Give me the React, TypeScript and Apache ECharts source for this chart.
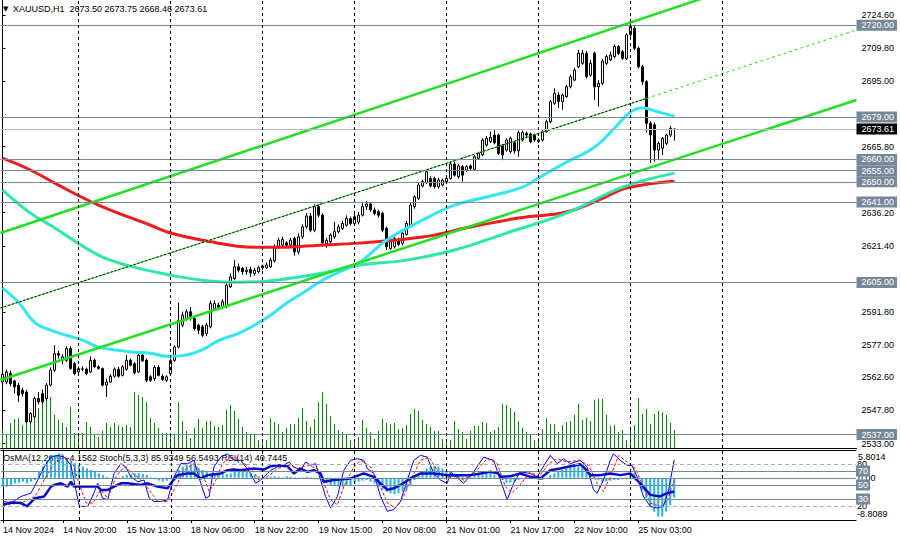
import React, { useEffect, useRef } from "react";
import * as echarts from "echarts";

const FONT = '"Liberation Sans", Arial, sans-serif';
const symbolTitle = "XAUUSD,H1";
const lastQuote = ["2673.50", "2673.75", "2668.46", "2673.61"];
const indicatorTitle = "OsMA(12,26,9) -4.1562 Stoch(5,3,3) 85.9349 56.5493 RSI(14) 40.7445";

const SLOTS = 214; // bars + empty space on the right
const priceMin = 2531.0;
const priceMax = 2731.3;
const priceTicks = [2533.0, 2547.8, 2562.6, 2577.0, 2591.8, 2621.4, 2636.2, 2665.8, 2695.0, 2709.8, 2724.6];
const levels = [2720, 2679, 2660, 2655, 2650, 2641, 2605, 2537];
const lastPrice = 2673.61;
const separators = [19, 42, 65, 88, 111, 134, 157, 180];
const timeLabels: [number, string][] = [
  [0, "14 Nov 2024"], [15, "14 Nov 20:00"], [31, "15 Nov 13:00"], [47, "18 Nov 06:00"],
  [63, "18 Nov 22:00"], [79, "19 Nov 15:00"], [95, "20 Nov 08:00"], [111, "21 Nov 01:00"],
  [127, "21 Nov 17:00"], [143, "22 Nov 10:00"], [159, "25 Nov 03:00"],
];

// [open, high, low, close]
const candles: number[][] = [
  [2560.5, 2565.5, 2559.5, 2564.0], [2560.5, 2566.0, 2559.5, 2565.0], [2564.3, 2565.5, 2558.5, 2559.8], [2561.0, 2561.5, 2555.3, 2558.3], [2559.1, 2560.0, 2551.6, 2554.6],
  [2556.8, 2558.0, 2554.0, 2555.3], [2556.0, 2557.0, 2542.0, 2542.7], [2542.7, 2547.0, 2542.0, 2546.4], [2545.0, 2554.0, 2544.5, 2553.1], [2553.1, 2556.0, 2550.5, 2551.6],
  [2555.3, 2557.0, 2550.8, 2551.6], [2553.1, 2560.0, 2552.0, 2559.1], [2559.1, 2567.0, 2558.5, 2565.8], [2565.8, 2577.0, 2565.0, 2573.2], [2573.2, 2574.5, 2571.0, 2572.5],
  [2570.2, 2573.0, 2568.5, 2571.8], [2570.2, 2576.5, 2569.5, 2575.5], [2575.5, 2576.5, 2566.0, 2566.5], [2568.7, 2569.5, 2563.5, 2564.3], [2565.0, 2567.5, 2564.0, 2566.5],
  [2566.2, 2567.5, 2565.3, 2566.4], [2566.2, 2567.0, 2563.5, 2564.3], [2565.0, 2572.0, 2564.5, 2570.2], [2570.2, 2571.0, 2566.8, 2567.3], [2567.3, 2568.0, 2566.0, 2566.5],
  [2566.5, 2567.0, 2558.5, 2559.1], [2559.1, 2562.0, 2553.8, 2560.5], [2560.5, 2564.0, 2560.0, 2563.1], [2563.1, 2567.0, 2562.5, 2566.2], [2566.2, 2567.3, 2562.5, 2563.1],
  [2563.5, 2568.0, 2563.0, 2567.3], [2566.2, 2572.5, 2565.5, 2570.2], [2570.2, 2571.0, 2567.5, 2568.0], [2568.7, 2569.5, 2564.0, 2564.6], [2565.0, 2574.0, 2564.5, 2572.5],
  [2572.5, 2573.5, 2569.5, 2569.9], [2570.2, 2571.0, 2560.5, 2561.3], [2562.8, 2563.5, 2560.5, 2561.3], [2562.0, 2568.0, 2561.0, 2567.0], [2567.0, 2568.0, 2563.0, 2563.5],
  [2563.1, 2564.0, 2561.0, 2561.6], [2561.3, 2563.5, 2560.5, 2562.8], [2564.3, 2571.0, 2563.5, 2570.2], [2570.2, 2577.0, 2569.5, 2576.2], [2576.2, 2596.0, 2575.5, 2588.0],
  [2585.9, 2592.0, 2585.0, 2590.4], [2588.9, 2593.0, 2588.0, 2591.9], [2591.9, 2594.0, 2588.0, 2588.9], [2588.9, 2590.0, 2583.5, 2584.4], [2585.9, 2586.5, 2582.0, 2583.7],
  [2585.2, 2586.0, 2580.7, 2581.4], [2582.2, 2587.0, 2581.0, 2585.9], [2585.2, 2597.0, 2584.5, 2595.6], [2593.4, 2597.0, 2592.5, 2595.6], [2594.9, 2596.0, 2592.5, 2593.4],
  [2594.1, 2597.5, 2593.0, 2596.4], [2594.1, 2605.0, 2593.5, 2603.8], [2603.1, 2609.0, 2602.5, 2607.5], [2606.8, 2615.0, 2606.0, 2612.0], [2612.0, 2613.5, 2609.5, 2610.5],
  [2611.3, 2612.0, 2608.5, 2609.8], [2609.8, 2612.0, 2608.5, 2610.5], [2610.8, 2612.0, 2607.5, 2609.3], [2609.0, 2611.5, 2608.0, 2610.5], [2609.8, 2612.5, 2609.0, 2611.6],
  [2611.6, 2613.0, 2610.5, 2612.4], [2611.6, 2614.0, 2611.0, 2612.8], [2612.0, 2616.0, 2611.5, 2615.0], [2614.7, 2622.0, 2614.0, 2620.9], [2620.9, 2625.0, 2620.0, 2623.9],
  [2621.7, 2625.5, 2621.0, 2624.2], [2622.7, 2623.5, 2621.0, 2621.7], [2621.7, 2625.0, 2621.0, 2623.9], [2624.7, 2625.5, 2617.0, 2618.7], [2618.7, 2627.0, 2617.5, 2625.4],
  [2625.4, 2631.0, 2624.5, 2629.9], [2629.9, 2636.0, 2629.0, 2634.7], [2634.7, 2636.0, 2627.5, 2628.4], [2628.4, 2640.0, 2627.5, 2638.9], [2638.9, 2640.0, 2634.0, 2635.1],
  [2635.1, 2636.0, 2621.0, 2622.7], [2622.4, 2625.0, 2620.5, 2623.9], [2623.2, 2627.0, 2622.0, 2626.2], [2625.4, 2632.1, 2624.5, 2627.7], [2627.7, 2631.0, 2627.0, 2629.9],
  [2629.2, 2632.5, 2628.5, 2631.4], [2630.6, 2635.0, 2630.0, 2633.6], [2633.6, 2634.5, 2630.5, 2631.4], [2631.4, 2636.0, 2630.5, 2634.4], [2632.0, 2636.5, 2631.0, 2635.1],
  [2635.1, 2640.5, 2634.5, 2638.9], [2638.9, 2641.5, 2637.5, 2640.1], [2640.1, 2641.0, 2636.5, 2637.4], [2637.4, 2638.5, 2635.0, 2635.9], [2636.6, 2637.5, 2634.0, 2635.1],
  [2635.9, 2636.5, 2627.5, 2628.4], [2629.2, 2630.0, 2619.5, 2621.0], [2620.2, 2624.5, 2619.5, 2623.2], [2621.0, 2625.5, 2620.2, 2624.7], [2624.0, 2625.0, 2621.2, 2622.0],
  [2622.5, 2628.0, 2621.5, 2627.0], [2626.5, 2632.5, 2626.0, 2631.4], [2630.7, 2640.5, 2630.0, 2639.6], [2639.0, 2644.0, 2638.0, 2643.3], [2642.6, 2649.5, 2641.8, 2648.6],
  [2648.1, 2651.0, 2647.5, 2650.1], [2649.6, 2655.3, 2649.0, 2654.5], [2651.5, 2652.5, 2647.5, 2648.1], [2651.5, 2652.3, 2647.0, 2647.8], [2647.8, 2651.8, 2647.0, 2650.8],
  [2648.6, 2651.5, 2648.0, 2650.8], [2649.6, 2652.3, 2649.0, 2651.5], [2651.5, 2659.0, 2651.0, 2658.0], [2658.0, 2659.0, 2652.3, 2653.0], [2652.3, 2658.0, 2651.5, 2657.1],
  [2656.8, 2657.5, 2650.1, 2653.0], [2655.3, 2657.5, 2654.5, 2656.8], [2657.1, 2657.8, 2655.3, 2656.0], [2655.6, 2662.0, 2655.0, 2661.2], [2660.5, 2663.5, 2660.0, 2662.7],
  [2662.0, 2669.5, 2661.5, 2668.7], [2666.5, 2670.5, 2665.8, 2669.4], [2668.0, 2672.5, 2667.3, 2669.9], [2670.9, 2673.2, 2666.8, 2667.5], [2670.9, 2671.5, 2662.0, 2662.7],
  [2666.5, 2667.0, 2659.7, 2662.0], [2664.2, 2669.5, 2663.5, 2668.7], [2663.5, 2670.2, 2662.7, 2669.4], [2667.5, 2668.2, 2662.5, 2663.9], [2663.9, 2673.0, 2661.2, 2672.0],
  [2668.7, 2673.0, 2668.0, 2672.0], [2671.7, 2672.5, 2669.5, 2670.9], [2671.4, 2672.0, 2667.3, 2668.0], [2670.9, 2671.5, 2668.0, 2668.7], [2668.7, 2669.5, 2667.3, 2668.0],
  [2668.7, 2673.2, 2668.0, 2672.4], [2672.4, 2677.8, 2672.0, 2676.9], [2676.9, 2686.6, 2676.2, 2685.8], [2685.1, 2691.8, 2684.4, 2689.6], [2688.8, 2690.0, 2683.0, 2685.8],
  [2685.8, 2689.5, 2682.2, 2688.8], [2688.1, 2693.3, 2687.5, 2692.5], [2692.5, 2698.0, 2691.8, 2697.0], [2695.5, 2701.0, 2695.0, 2700.0], [2701.5, 2709.0, 2700.8, 2707.5],
  [2703.0, 2709.0, 2702.3, 2707.5], [2707.5, 2708.5, 2696.2, 2697.0], [2697.7, 2704.5, 2697.0, 2703.0], [2707.5, 2708.2, 2686.6, 2692.5], [2692.5, 2695.5, 2683.6, 2694.0],
  [2694.0, 2705.0, 2693.3, 2704.0], [2703.0, 2707.0, 2702.3, 2706.0], [2704.5, 2708.2, 2704.0, 2706.7], [2706.0, 2711.5, 2705.2, 2710.5], [2710.5, 2711.2, 2706.7, 2707.5],
  [2708.2, 2709.0, 2704.5, 2705.2], [2705.2, 2716.5, 2704.5, 2715.7], [2715.7, 2721.8, 2714.9, 2719.4], [2718.6, 2720.0, 2708.9, 2709.7], [2709.7, 2710.5, 2700.7, 2701.5],
  [2701.5, 2702.3, 2693.3, 2694.8], [2694.8, 2695.5, 2672.0, 2676.2], [2676.2, 2677.0, 2658.5, 2671.0], [2675.5, 2676.5, 2658.9, 2664.2], [2664.2, 2668.0, 2659.7, 2667.2],
  [2665.0, 2670.0, 2662.0, 2669.4], [2667.2, 2671.5, 2666.5, 2670.9], [2670.9, 2675.0, 2670.0, 2673.9], [2673.5, 2673.75, 2668.46, 2673.61],
];

// tick volume (relative units)
const volumes = [
  18, 13, 25, 29, 30, 23, 29, 26, 36, 40, 45, 51, 51, 33, 28, 25, 21, 41, 15, 13,
  15, 26, 21, 13, 11, 17, 25, 21, 25, 23, 21, 23, 21, 56, 53, 51, 46, 30, 25, 20,
  15, 15,
  15, 14, 46, 27, 17, 10, 20, 29, 20, 27, 27, 22, 21, 23, 38, 43, 37, 29, 21, 16,
  14, 14, 8, 6, 8, 30, 26, 24, 16, 20, 24, 24, 30, 40, 27, 21, 29, 46, 56, 44,
  32, 24, 18, 16, 14, 8, 8, 11, 28, 20, 16, 9, 17, 29, 25, 24, 25, 19, 20, 23,
  34, 39, 37, 28, 24, 21, 17, 17, 9, 9, 8, 27, 19, 16, 9, 17, 22, 22, 26, 25,
  16, 18, 21, 44, 43, 40, 36, 27, 20, 16, 14, 8, 10, 19, 30, 24, 24, 16, 23, 26,
  27, 33, 44, 28, 30, 27, 48, 49, 49, 33, 22, 23, 16, 18, 8, 21, 23, 50, 34, 39,
  24, 34, 37, 36, 33, 25, 18,
];

// moving averages [bar, price]
const maFast = [[0, 2602.5], [4, 2596.2], [8, 2587.2], [12, 2583.7], [16, 2581.4], [20, 2579.2], [24, 2576.1], [29, 2574.7], [33, 2573.8], [37, 2573.4], [41, 2572.0], [45, 2572.3], [50, 2575.0], [54, 2579.0], [59, 2582.3], [63, 2585.9], [67, 2590.4], [71, 2595.7], [75, 2600.2], [80, 2606.0], [84, 2609.6], [89, 2613.6], [96, 2623.9], [105, 2632.9], [113, 2639.6], [121, 2643.2], [130, 2647.6], [134, 2651.7], [141, 2658.8], [148, 2665.5], [153, 2674.0], [157, 2681.2], [160, 2683.0], [164, 2681.2], [168, 2679.4]];
const maMid = [[0, 2646.3], [7, 2636.0], [12, 2630.6], [24, 2617.2], [32, 2612.3], [42, 2608.3], [50, 2606.0], [58, 2605.1], [66, 2605.6], [74, 2607.4], [81, 2609.6], [89, 2612.7], [101, 2615.0], [113, 2619.5], [126, 2627.1], [141, 2636.0], [155, 2647.6], [168, 2653.9]];
const maSlow = [[0, 2660.6], [7, 2655.3], [14, 2648.5], [24, 2639.6], [37, 2630.6], [42, 2627.1], [50, 2623.9], [63, 2620.8], [71, 2620.8], [79, 2621.7], [89, 2622.6], [105, 2625.3], [117, 2629.8], [129, 2633.8], [141, 2636.5], [149, 2641.8], [156, 2647.2], [168, 2650.3]];

// channel lines [bar, price]
const upperChannel = [[-0.5, 2627.1], [175, 2732.0]];
const midChannel = [[-0.5, 2593.6], [161, 2687.3]];
const midChannelExt = [[161, 2687.3], [213.5, 2717.9]];
const lowerChannel = [[-0.5, 2561.4], [213.5, 2686.6]];

// OsMA(12,26,9)
const osma = [
  -1.85, -1.85, -1.5, -1.16, -1.02, -0.81, -1.16, -0.81, -0.46, 1.28,
  2.32, 3.71, 4.76, 4.76, 5.1, 4.76, 4.06, 3.37, 3.02, 2.67,
  2.32, 1.97, 1.63, 1.28, 0.93, 0.58, 0.23, -0.11, -0.11, 0.1,
  0.37, 0.58, 0.72, 0.93, 0.93, 0.79, 0.58, 0.1, -0.32, -0.6,
  -0.81, -0.6, -0.32, 0.58, 1.63, 2.32, 2.67, 3.02, 2.67, 1.97,
  1.63, 1.28, 0.93, 0.93, 0.93, 0.93, 0.79, 0.93, 1.28, 1.63,
  1.63, 1.28, 0.93, 0.58, 0.37, 0.23, 0.1, 0.23, 0.37, 0.23,
  0.1, 0.37, 0.23, 0.1, -0.11, 0.1, 0.23, 0.1, -0.11, -0.32,
  -0.81, -1.16, -1.5, -1.71, -1.85, -1.85, -1.71, -1.5, -1.16, -0.81,
  -0.6, -0.46, -0.81, -1.16, -1.85, -2.41, -2.89, -3.24, -3.38, -3.24,
  -2.89, -2.55, -1.5, -0.46, 0.58, 1.28, 1.97, 2.32, 2.46, 2.32,
  1.97, 1.28, 0.93, 0.93, 0.58, 0.23, 0.1, 0.23, 0.58, 0.93,
  1.07, 1.07, 0.93, 0.58, 0.1, -0.46, -1.02, -1.02, -0.81, -0.46,
  -0.11, 0.23, 0.37, 0.23, -0.11, -0.46, -0.11, 0.58, 0.93, 1.28,
  1.63, 1.97, 2.32, 2.46, 2.67, 2.46, 1.97, 0.93, 0.1, -0.46,
  -0.81, -0.81, -0.6, -0.46, -0.46, -0.32, 0.1, 0.58, 0.93, -0.11,
  -2.55, -4.29, -6.03, -7.07, -8.11, -8.11, -7.07, -5.68, -4.16,
];
const osmaMin = -8.8089;
const osmaMax = 5.8014;

// Stochastic(5,3,3) main and signal, RSI(14) [bar, value]
const stochMain = [[0, 26.5], [2, 24.2], [4.5, 33.6], [7, 38.3], [8.7, 57.1], [10.3, 75.8], [12, 89.9], [13.7, 92.3], [15.3, 89.9], [17, 78.2], [18.25, 43], [19.1, 19.5], [21.2, 19.5], [22.4, 33.6], [23.7, 52.4], [24.9, 31.2], [26.2, 28.9], [27.8, 66.5], [29.5, 80.5], [30.75, 75.8], [32, 61.7], [33.7, 54.7], [35.3, 57.1], [36.6, 31.2], [37.8, 26.5], [39.5, 26.5], [41.2, 28.9], [42.8, 61.7], [44.5, 80.5], [46.2, 80.5], [47.8, 85.2], [49.5, 52.4], [50.75, 31.2], [51.6, 33.6], [52.8, 75.8], [54.5, 89.9], [56.2, 94.6], [57.8, 85.2], [59.5, 85.2], [62, 66.5], [63.25, 52.4], [64.5, 57.1], [66.2, 66.5], [67, 71.1], [68.7, 75.8], [70.3, 78.2], [71.6, 82.9], [72.8, 75.8], [74.5, 71.1], [75.75, 82.9], [77, 78.2], [78.25, 80.5], [79.5, 57.1], [80.75, 33.6], [82, 17.2], [83.7, 33.6], [85.3, 71.1], [87, 85.2], [88.7, 87.6], [90.3, 85.2], [91.2, 73.5], [92.8, 66.5], [94.5, 33.6], [96.2, 12.5], [97.8, 14.8], [99.5, 26.5], [101.2, 57.1], [102.8, 85.2], [104.5, 92.3], [106.2, 89.9], [107.8, 66.5], [109.5, 57.1], [111.2, 52.4], [112, 68.8], [115.3, 52.4], [117.8, 68.8], [120.3, 89.9], [122.8, 85.2], [124.5, 57.1], [126.2, 28.9], [127.8, 52.4], [129.5, 68.8], [132, 66.5], [133.7, 61.7], [136.2, 85.2], [137, 92.3], [138.7, 80.5], [140.3, 87.6], [142, 80.5], [144.5, 85.2], [146.2, 75.8], [147.8, 43], [148.7, 38.3], [150.3, 57.1], [152, 85.2], [152.8, 94.6], [154.5, 85.2], [156.2, 78.2], [157.4, 78.2], [158.7, 61.7], [160.3, 33.6], [162, 19.5], [163.7, 17.2], [165.3, 19.5], [166.6, 43], [168, 85.93]];
const stochSignal = [[0, 21.5], [4.5, 24.2], [8, 33.6], [10.3, 57], [12.8, 80.5], [15.3, 89.9], [17.4, 82.9], [19, 52.4], [20.8, 24.2], [22.5, 24.2], [24.5, 43], [26.2, 31.2], [28.3, 61.7], [30.3, 75.8], [32, 68.8], [34.5, 57.1], [36.6, 43], [38.7, 26.5], [41.2, 26.5], [43.3, 47.7], [45.3, 71.1], [47.8, 80.5], [49.9, 66.5], [51.6, 40.6], [53.3, 57.1], [54.9, 80.5], [57, 89.9], [59.5, 85.2], [62.4, 71.1], [64.1, 57.1], [66.2, 61.7], [68.7, 73.5], [71.6, 78.2], [73.7, 73.5], [76.2, 78.2], [78.7, 73.5], [80.3, 52.4], [82, 28.9], [83.7, 21.8], [85.3, 47.7], [87.8, 75.8], [89.5, 85.2], [92, 75.8], [94.1, 52.4], [96.2, 24.2], [98.2, 17.2], [99.9, 28.9], [102, 57.1], [104.5, 85.2], [106.6, 89.9], [108.7, 71.1], [111.2, 57.1], [112.8, 64.1], [115.3, 57.1], [118.2, 68.8], [121.2, 87.6], [123.7, 80.5], [125.75, 47.7], [127.4, 38.3], [129.1, 47.7], [132, 68.8], [134.1, 61.7], [136.6, 80.5], [138.7, 87.6], [141.2, 82.9], [144.1, 85.2], [146.6, 78.2], [148.7, 52.4], [150.3, 40.6], [152, 61.7], [154.1, 92.3], [156.2, 82.9], [158.25, 73.5], [159.9, 52.4], [162, 24.2], [164.5, 19.5], [166.2, 26.5], [168, 56.55]];
const rsi14 = [[0, 21.8], [2, 25.1], [4.5, 24.2], [6, 19.5], [8, 31.2], [10.3, 33.6], [12, 47.7], [12.8, 50], [14.5, 52.4], [16.2, 47.7], [17, 54.7], [17.8, 47.7], [19.5, 47.7], [21, 47.7], [23.7, 47.7], [24.5, 43], [26.2, 43], [27.8, 47.7], [29.5, 52.4], [31.2, 52.4], [34.5, 50], [36.2, 52.4], [38.7, 47.7], [41.2, 45.3], [42, 52.4], [43.7, 64.1], [46.2, 66.5], [47.8, 66.5], [49.5, 59.4], [51.2, 64.1], [54.5, 66.5], [56.2, 71.1], [57.8, 72.1], [59.5, 71.1], [62.8, 73.5], [65.3, 72.1], [67, 76.8], [68.7, 78.2], [71.2, 76.8], [72.8, 66.5], [74.5, 73.5], [76.2, 68.8], [77.8, 71.1], [79.5, 66.5], [80.3, 54.7], [82.8, 57.1], [87, 59.4], [90.3, 66.5], [92.8, 61.7], [94.5, 52.4], [96.2, 43], [97.8, 45.3], [99.5, 50], [102, 59.4], [104.5, 66.5], [107.8, 66.5], [111.2, 64.1], [114.5, 64.1], [117, 64.1], [119.5, 66.5], [122, 68.8], [124, 66.5], [124.5, 61.7], [127, 62.6], [129.5, 66.5], [132, 61.7], [134.5, 59.4], [137, 71.1], [139.5, 73.5], [142, 76.8], [144.5, 79.6], [145.3, 75.8], [147, 64.1], [149.5, 64.1], [152, 66.5], [154.5, 64.1], [157, 66.5], [159.5, 52.4], [162, 35.9], [164.5, 33.6], [166.2, 38.3], [168, 40.74]];
const dashedLevels = [80, 20];
const boxedLevels = [70, 50, 30];

const LEVEL_COLOR = "#778899";

export default function App() {
  const ref = useRef<HTMLDivElement>(null);
  useEffect(() => {
    if (!ref.current) return;
    const chart = echarts.init(ref.current, undefined, { renderer: "svg" });
    const labelMap = new Map<number, string>(timeLabels);
    const cats = Array.from({ length: SLOTS }, (_, i) => labelMap.get(i) ?? "b" + i);
    const candleData = candles.map(([o, h, l, c]) => [o, c, l, h]);
    const boxLabel = (bg: string) => ({
      show: true, position: "end", distance: 0, backgroundColor: bg, color: "#fff",
      padding: [1, 3, 0, 5], fontSize: 9, lineHeight: 10, fontFamily: FONT,
    });
    const vSep = (xi: number) => ({ xAxis: xi });
    const sepLine = { type: [3, 3], color: "#000", width: 1 };
    const thickGreen = "#22e022";

    const option: any = {
      animation: false,
      backgroundColor: "#ffffff",
      textStyle: { fontFamily: FONT },
      grid: [
        { left: 0.5, top: 0, width: 856, height: 448 },
        { left: 0, top: 450, width: 856, height: 70 },
      ],
      xAxis: [
        { type: "category", gridIndex: 0, data: cats, axisLine: { show: true, lineStyle: { color: "#000" } }, axisTick: { show: false }, axisLabel: { show: false }, splitLine: { show: false } },
        { type: "value", gridIndex: 0, min: -0.5, max: SLOTS - 0.5, show: false },
        {
          type: "category", gridIndex: 1, data: cats,
          axisLine: { show: true, lineStyle: { color: "#000" } },
          axisTick: { show: true, alignWithLabel: true, length: 3, interval: (i: number) => labelMap.has(i), lineStyle: { color: "#000" } },
          axisLabel: { interval: (i: number) => labelMap.has(i), formatter: (_v: string, i: number) => labelMap.get(i) ?? "", align: "left", margin: 5, fontSize: 9, color: "#000", fontFamily: FONT },
          splitLine: { show: false },
        },
        { type: "value", gridIndex: 1, min: -0.5, max: SLOTS - 0.5, position: "top", axisLine: { show: true, onZero: false, lineStyle: { color: "#000" } }, axisTick: { show: false }, axisLabel: { show: false }, splitLine: { show: false } },
      ],
      yAxis: [
        {
          type: "value", gridIndex: 0, position: "right", min: priceMin, max: priceMax,
          axisLine: { show: true, lineStyle: { color: "#000" } },
          axisTick: { show: true, length: 3, customValues: priceTicks, lineStyle: { color: "#000" } },
          axisLabel: { customValues: priceTicks, formatter: (v: number) => v.toFixed(2), fontSize: 9, color: "#000", margin: 5, fontFamily: FONT },
          splitLine: { show: false },
        },
        { type: "value", gridIndex: 0, min: 0, max: 448, show: false },
        { type: "value", gridIndex: 1, position: "right", min: 0, max: 100, axisLine: { show: true, lineStyle: { color: "#000" } }, axisTick: { show: false }, axisLabel: { show: false }, splitLine: { show: false } },
        { type: "value", gridIndex: 1, min: osmaMin, max: osmaMax, show: false },
      ],
      series: [
        { type: "bar", name: "Volumes", xAxisIndex: 0, yAxisIndex: 1, data: volumes, barWidth: 1, itemStyle: { color: "#008c00" }, silent: true },
        {
          type: "candlestick", name: symbolTitle, xAxisIndex: 0, yAxisIndex: 0, data: candleData, barWidth: 3,
          itemStyle: { color: "#ffffff", color0: "#000000", borderColor: "#000000", borderColor0: "#000000", borderWidth: 1 },
          silent: true,
          markLine: {
            silent: true, symbol: ["none", "none"], animation: false,
            data: [
              ...levels.map((v) => ({ yAxis: v, lineStyle: { color: LEVEL_COLOR, width: 1, type: "solid" }, label: { ...boxLabel(LEVEL_COLOR), formatter: v.toFixed(2) } })),
              { yAxis: lastPrice, lineStyle: { color: "#c0c0c0", width: 1, type: "solid" }, label: { ...boxLabel("#000"), formatter: lastPrice.toFixed(2) } },
            ],
          },
        },
        { type: "line", name: "MA slow", xAxisIndex: 1, yAxisIndex: 0, data: maSlow, smooth: 0.4, showSymbol: false, lineStyle: { color: "#ee1c1c", width: 3 }, silent: true },
        { type: "line", name: "MA mid", xAxisIndex: 1, yAxisIndex: 0, data: maMid, smooth: 0.4, showSymbol: false, lineStyle: { color: "#2ee8a8", width: 3 }, silent: true },
        {
          type: "line", name: "MA fast", xAxisIndex: 1, yAxisIndex: 0, data: maFast, smooth: 0.4, showSymbol: false, lineStyle: { color: "#33e6f2", width: 3 }, silent: true,
          markLine: { silent: true, symbol: ["none", "none"], label: { show: false }, lineStyle: sepLine, data: separators.map(vSep) },
        },
        { type: "line", name: "upper", xAxisIndex: 1, yAxisIndex: 0, data: upperChannel, showSymbol: false, lineStyle: { color: thickGreen, width: 2.5 }, silent: true },
        { type: "line", name: "lower", xAxisIndex: 1, yAxisIndex: 0, data: lowerChannel, showSymbol: false, lineStyle: { color: thickGreen, width: 2.5 }, silent: true },
        { type: "line", name: "mid g", xAxisIndex: 1, yAxisIndex: 0, data: midChannel, showSymbol: false, lineStyle: { color: thickGreen, width: 1 }, silent: true },
        { type: "line", name: "mid", xAxisIndex: 1, yAxisIndex: 0, data: midChannel, showSymbol: false, lineStyle: { color: "#000", width: 1, type: [2, 2] }, silent: true },
        { type: "line", name: "mid ext", xAxisIndex: 1, yAxisIndex: 0, data: midChannelExt, showSymbol: false, lineStyle: { color: thickGreen, width: 1, type: [3, 3] }, silent: true },
        // indicator window
        {
          type: "bar", name: "OsMA", xAxisIndex: 2, yAxisIndex: 3, data: osma, barWidth: 2, itemStyle: { color: "#1eb4f0" }, silent: true,
          markLine: {
            silent: true, symbol: ["none", "none"],
            data: [{ yAxis: 0, lineStyle: { color: LEVEL_COLOR, width: 1, type: "solid" }, label: { show: true, position: "end", distance: 2, formatter: "0.00", color: "#000", fontSize: 9, fontFamily: FONT } }],
          },
        },
        { type: "line", name: "Stoch", xAxisIndex: 3, yAxisIndex: 2, data: stochMain, showSymbol: false, lineStyle: { color: "#0000ff", width: 1 }, silent: true },
        { type: "line", name: "Signal", xAxisIndex: 3, yAxisIndex: 2, data: stochSignal, showSymbol: false, lineStyle: { color: "#ff0000", width: 1, type: [3, 2] }, silent: true },
        {
          type: "line", name: "RSI", xAxisIndex: 3, yAxisIndex: 2, data: rsi14, showSymbol: false, lineStyle: { color: "#0a0acc", width: 2.5 }, silent: true,
          markLine: {
            silent: true, symbol: ["none", "none"],
            data: [
              ...dashedLevels.map((v) => ({ yAxis: v, lineStyle: { color: "#aaaaaa", width: 1, type: [4, 3] }, label: { show: true, position: "end", distance: 1, formatter: String(v), color: "#000", fontSize: 9, fontFamily: FONT } })),
              ...boxedLevels.map((v) => ({ yAxis: v, lineStyle: { color: LEVEL_COLOR, width: 1, type: "solid" }, label: { ...boxLabel(LEVEL_COLOR), padding: [1, 2, 0, 2], formatter: String(v) } })),
              ...separators.map((s) => ({ xAxis: s, lineStyle: sepLine, label: { show: false } })),
            ],
          },
        },
      ],
      graphic: [
        { type: "text", x: 3, y: 9, silent: true, style: { text: "▼", fontSize: 7, fill: "#000", verticalAlign: "middle", fontFamily: "DejaVu Sans" } },
        { type: "text", x: 13, y: 9, silent: true, style: { text: symbolTitle + "  " + lastQuote.join(" "), fontSize: 9, fill: "#000", verticalAlign: "middle", fontFamily: FONT } },
        { type: "text", x: 3, y: 458, silent: true, style: { text: indicatorTitle, fontSize: 9, fill: "#000", verticalAlign: "middle", fontFamily: FONT } },
        { type: "text", x: 858, y: 457, silent: true, style: { text: osmaMax.toFixed(4), fontSize: 9, fill: "#000", verticalAlign: "middle", fontFamily: FONT } },
        { type: "text", x: 857, y: 514, silent: true, style: { text: osmaMin.toFixed(4), fontSize: 9, fill: "#000", verticalAlign: "middle", fontFamily: FONT } },
      ],
    };
    chart.setOption(option);
    return () => chart.dispose();
  }, []);
  return <div ref={ref} style={{ width: 900, height: 540, position: "absolute", left: 0, top: 0, background: "#fff" }} />;
}
